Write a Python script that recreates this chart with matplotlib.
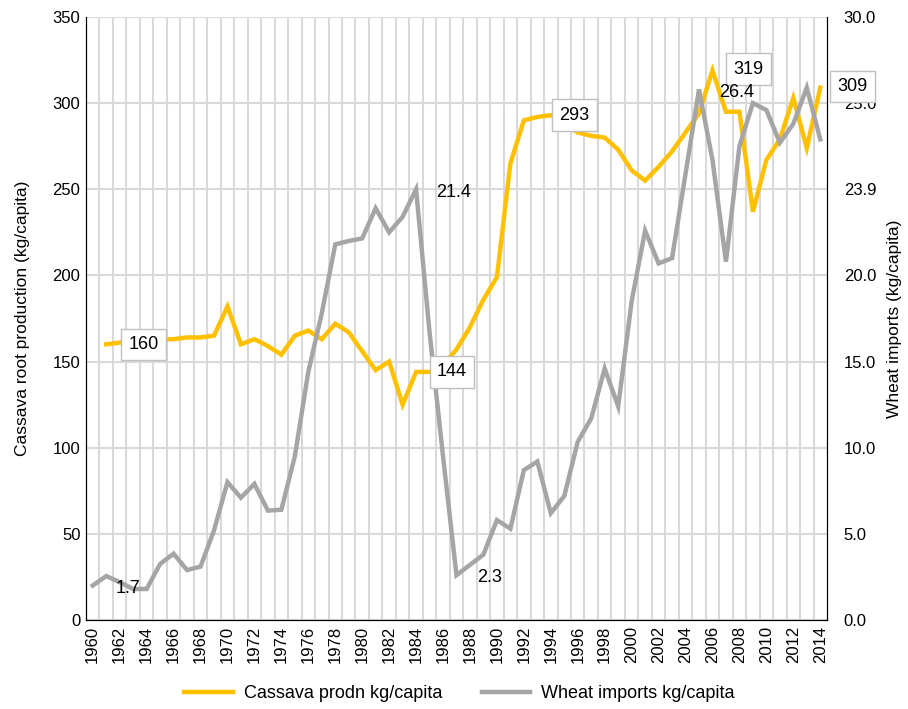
import numpy as np
import matplotlib
matplotlib.use("Agg")
import matplotlib.pyplot as plt

plt.rcParams['font.family'] = ['Liberation Sans', 'DejaVu Sans']

years = list(range(1960, 2015))

# cassava root production, kg/capita (no value for 1960)
cassava = [np.nan, 160, 161, 162, 162, 163, 163, 164, 164, 165,
           182, 160, 163, 159, 154, 165, 168, 163, 172, 167,
           156, 145, 150, 125, 144, 144, 148, 157, 170, 186,
           199, 265, 290, 292, 293, 288, 283, 281, 280, 273,
           261, 255, 263, 272, 283, 294, 319, 295, 295, 237,
           267, 279, 303, 274, 309]

# wheat imports, kg/capita
wheat = [2.0, 2.55, 2.2, 1.8, 1.8, 3.25, 3.85, 2.9, 3.1, 5.2,
         8.0, 7.1, 7.9, 6.35, 6.4, 9.5, 14.4, 17.8, 21.8, 22.0,
         22.15, 23.9, 22.5, 23.4, 25.0, 16.7, 9.5, 2.6, 3.2, 3.8,
         5.8, 5.3, 8.7, 9.2, 6.2, 7.2, 10.35, 11.7, 14.6, 12.4,
         18.5, 22.6, 20.7, 21.0, 25.9, 30.8, 26.7, 20.8, 27.5, 30.0,
         29.6, 27.7, 28.8, 30.9, 27.9]

right_tick_labels = ['0.0', '5.0', '10.0', '15.0', '20.0', '23.9', '25.0', '30.0']

# data labels: (year, text, offset in points)
cassava_labels = [(1961, '160', (27, 0)), (1985, '144', (16, 0)),
                  (1994, '293', (17, 0)), (2006, '319', (26, 1)),
                  (2014, '309', (23, 1))]
wheat_labels = [(1963, '1.7', (-4, 0)), (1984, '21.4', (27, -2)),
                (1987, '2.3', (24, -2)), (2005, '26.4', (27, -2))]

yellow = '#FFC000'
grey = '#A5A5A5'

fig = plt.figure(figsize=(9.08, 7.09), dpi=100)
ax = fig.add_axes([86/908, 1 - 620/709, (827 - 86)/908, (620 - 17)/709])

ax.plot(years, cassava, color=yellow, lw=3.2, solid_joinstyle='miter',
        label='Cassava prodn kg/capita')
ax.set_xlim(1959.5, 2014.5)
ax.set_ylim(0, 350)
ax.set_yticks(range(0, 351, 50))
ax.set_xticks(range(1960, 2015, 2))
ax.set_xticks(np.arange(1960.5, 2014, 1), minor=True)
ax.tick_params(axis='x', which='major', labelrotation=90, length=0, pad=4, labelsize=12)
ax.tick_params(axis='x', which='minor', length=0)
ax.tick_params(axis='y', length=0, pad=4, labelsize=12)
ax.grid(axis='y', color='#D9D9D9', lw=1.5)
ax.grid(axis='x', which='minor', color='#D9D9D9', lw=1.5)
ax.set_axisbelow(True)
ax.spines['top'].set_visible(False)
ax.set_ylabel('Cassava root production (kg/capita)', fontsize=12.5, labelpad=16)

ax2 = ax.twinx()
ax2.plot(years, wheat, color=grey, lw=3.2, solid_joinstyle='miter',
         label='Wheat imports kg/capita')
ax2.set_ylim(0, 35)
ax2.set_yticks(range(0, 36, 5))
ax2.set_yticklabels(right_tick_labels)
ax2.tick_params(axis='y', length=0, pad=12, labelsize=12)
ax2.spines['top'].set_visible(False)
ax2.set_ylabel('Wheat imports (kg/capita)', fontsize=12.5, labelpad=8)

box = dict(boxstyle='square,pad=0.4', fc='white', ec='#BFBFBF', lw=1)
for yr, txt, off in cassava_labels:
    ax2.annotate(txt, (yr, cassava[years.index(yr)]), xycoords=ax.transData,
                 xytext=off, textcoords='offset points', ha='center', va='center',
                 fontsize=13, bbox=box, annotation_clip=False, zorder=5)
for yr, txt, off in wheat_labels:
    ax2.annotate(txt, (yr, wheat[years.index(yr)]), xytext=off,
                 textcoords='offset points', ha='center', va='center',
                 fontsize=13, annotation_clip=False, zorder=5)

h1, l1 = ax.get_legend_handles_labels()
h2, l2 = ax2.get_legend_handles_labels()
fig.legend(h1 + h2, l1 + l2, loc='center', bbox_to_anchor=(0.506, 0.022),
           ncol=2, frameon=False, fontsize=13, handlelength=2.7,
           handletextpad=0.6, columnspacing=2.2)

fig.savefig('out.png', dpi=100)
